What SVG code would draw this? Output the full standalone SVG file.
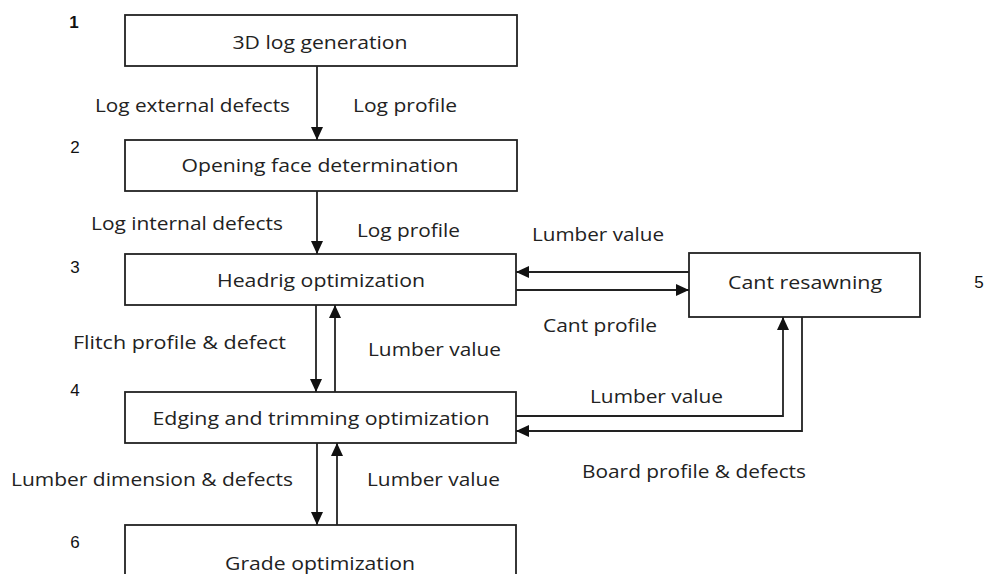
<svg xmlns="http://www.w3.org/2000/svg" width="986" height="574" viewBox="0 0 986 574">
<style>
.box{fill:#fff;stroke:#222;stroke-width:1.8}
.t{font-family:"Open Sans","Liberation Sans",Arial,sans-serif;font-size:18.5px;fill:#222}
.c{text-anchor:middle}
.n{font-family:"Liberation Sans",Arial,sans-serif;font-size:17px;fill:#111;text-anchor:middle}
.ln{fill:none;stroke:#222;stroke-width:1.8}
</style>
<defs>
<marker id="ah" markerUnits="userSpaceOnUse" markerWidth="14" markerHeight="12" refX="13" refY="6" orient="auto">
<path d="M0,0 L13,6 L0,12 Z" fill="#111"/>
</marker>
</defs>
<rect width="986" height="574" fill="#fff"/>
<g id="node1"><rect class="box" x="125" y="15" width="392" height="51"/><text class="t c" x="320" y="49" textLength="175" lengthAdjust="spacingAndGlyphs">3D log generation</text><text class="n" x="74" y="28" font-weight="bold">1</text></g>
<g id="node2"><rect class="box" x="125" y="140" width="392" height="51"/><text class="t c" x="320" y="172" textLength="277" lengthAdjust="spacingAndGlyphs">Opening face determination</text><text class="n" x="75" y="153">2</text></g>
<g id="node3"><rect class="box" x="125" y="254" width="391" height="51"/><text class="t c" x="321" y="287" textLength="208" lengthAdjust="spacingAndGlyphs">Headrig optimization</text><text class="n" x="75" y="273">3</text></g>
<g id="node4"><rect class="box" x="125" y="392" width="391" height="51"/><text class="t c" x="321" y="425" textLength="337" lengthAdjust="spacingAndGlyphs">Edging and trimming optimization</text><text class="n" x="75" y="396">4</text></g>
<g id="node5"><rect class="box" x="689" y="253" width="231" height="64"/><text class="t c" x="805" y="289" textLength="154" lengthAdjust="spacingAndGlyphs">Cant resawning</text><text class="n" x="979" y="288">5</text></g>
<g id="node6"><rect class="box" x="125" y="525" width="391" height="60"/><text class="t c" x="320" y="570" textLength="190" lengthAdjust="spacingAndGlyphs">Grade optimization</text><text class="n" x="75" y="548">6</text></g>
<g id="connectors">
<line class="ln" x1="317" y1="66" x2="317" y2="140" marker-end="url(#ah)"/>
<line class="ln" x1="317" y1="191" x2="317" y2="254" marker-end="url(#ah)"/>
<line class="ln" x1="316" y1="305" x2="316" y2="392" marker-end="url(#ah)"/>
<line class="ln" x1="335" y1="392" x2="335" y2="305" marker-end="url(#ah)"/>
<line class="ln" x1="317" y1="443" x2="317" y2="525" marker-end="url(#ah)"/>
<line class="ln" x1="337" y1="525" x2="337" y2="443" marker-end="url(#ah)"/>
<line class="ln" x1="689" y1="272" x2="516" y2="272" marker-end="url(#ah)"/>
<line class="ln" x1="516" y1="290" x2="689" y2="290" marker-end="url(#ah)"/>
<path class="ln" d="M516,416 H783 V317" marker-end="url(#ah)"/>
<path class="ln" d="M802,317 V431 H516" marker-end="url(#ah)"/>
</g>
<g id="labels">
<text class="t" x="95" y="112" textLength="195" lengthAdjust="spacingAndGlyphs">Log external defects</text>
<text class="t" x="353" y="112" textLength="104" lengthAdjust="spacingAndGlyphs">Log profile</text>
<text class="t" x="91" y="230" textLength="192" lengthAdjust="spacingAndGlyphs">Log internal defects</text>
<text class="t" x="357" y="237" textLength="103" lengthAdjust="spacingAndGlyphs">Log profile</text>
<text class="t" x="532" y="241" textLength="132" lengthAdjust="spacingAndGlyphs">Lumber value</text>
<text class="t" x="543" y="332" textLength="114" lengthAdjust="spacingAndGlyphs">Cant profile</text>
<text class="t" x="73" y="349" textLength="213" lengthAdjust="spacingAndGlyphs">Flitch profile &amp; defect</text>
<text class="t" x="368" y="356" textLength="133" lengthAdjust="spacingAndGlyphs">Lumber value</text>
<text class="t" x="590" y="403" textLength="133" lengthAdjust="spacingAndGlyphs">Lumber value</text>
<text class="t" x="582" y="478" textLength="224" lengthAdjust="spacingAndGlyphs">Board profile &amp; defects</text>
<text class="t" x="11" y="486" textLength="282" lengthAdjust="spacingAndGlyphs">Lumber dimension &amp; defects</text>
<text class="t" x="367" y="486" textLength="133" lengthAdjust="spacingAndGlyphs">Lumber value</text>
</g>
</svg>
